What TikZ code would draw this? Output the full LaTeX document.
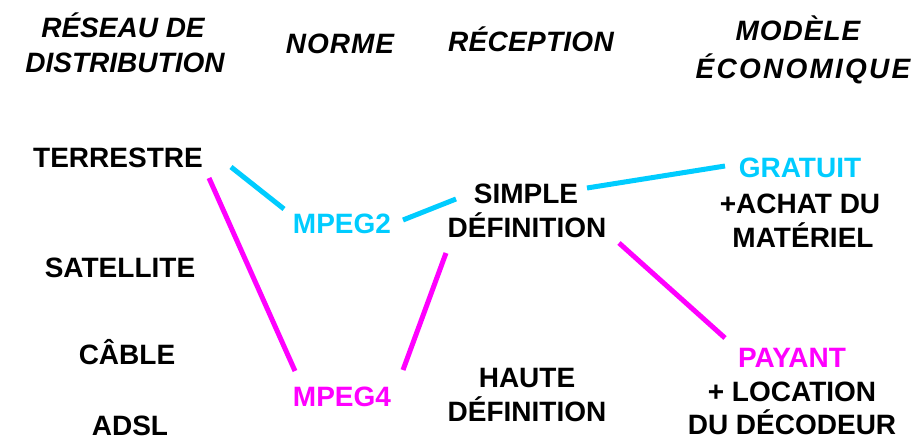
\documentclass[tikz,border=0pt]{standalone}
\usepackage{fontspec}
\setmainfont{Liberation Sans}
\definecolor{cyanc}{RGB}{0,204,255}
\definecolor{magc}{RGB}{255,0,255}
\tikzset{
  hdr/.style={anchor=base, inner sep=0pt, font=\fontsize{28}{30}\selectfont\bfseries\itshape},
  lbl/.style={anchor=base, inner sep=0pt, font=\fontsize{28}{34}\selectfont\bfseries},
  cyanline/.style={draw=cyanc, line width=5pt},
  magline/.style={draw=magc, line width=5pt}
}
\newcommand{\lsp}[2]{{\addfontfeature{LetterSpace=#1}#2}}
\begin{document}
\begin{tikzpicture}[x=1pt,y=-1pt]
\useasboundingbox (0,0) rectangle (917,439);
% headers
\node[hdr] (h1a) at (123,37) {\lsp{0}{RÉSEAU DE}};
\node[hdr] (h1b) at (125,72) {\lsp{0}{DISTRIBUTION}};
\node[hdr] (h2) at (340,53) {\lsp{3.5}{NORME}};
\node[hdr] (h3) at (531,51) {\lsp{1}{RÉCEPTION}};
\node[hdr] (h4a) at (798,40) {\lsp{3.5}{MODÈLE}};
\node[hdr] (h4b) at (803,78) {\lsp{8}{ÉCONOMIQUE}};
% left column
\node[lbl] (terre) at (118,167) {TERRESTRE};
\node[lbl] (sat) at (120,277) {SATELLITE};
\node[lbl] (cable) at (127,364) {CÂBLE};
\node[lbl] (adsl) at (130,435) {ADSL};
% norme
\node[lbl, text=cyanc] (mpeg2) at (342,233) {MPEG2};
\node[lbl, text=magc] (mpeg4) at (342,406) {MPEG4};
% reception
\node[lbl] (simple) at (526,203) {SIMPLE};
\node[lbl] (def1) at (527,237) {DÉFINITION};
\node[lbl] (haute) at (527,387) {HAUTE};
\node[lbl] (def2) at (527,421) {DÉFINITION};
% economic model
\node[lbl, text=cyanc] (gratuit) at (800,177) {GRATUIT};
\node[lbl] (achat) at (800,213) {+ACHAT DU};
\node[lbl] (mat) at (803,247) {MATÉRIEL};
\node[lbl, text=magc] (payant) at (792,367) {PAYANT};
\node[lbl] (loc) at (792,401) {+ LOCATION};
\node[lbl] (deco) at (792,434) {DU DÉCODEUR};
% connectors
\draw[cyanline] ([shift={(113,0)}]terre.base) -- ([shift={(-58,-24)}]mpeg2.base);
\draw[cyanline] ([shift={(61,-13)}]mpeg2.base) -- ([shift={(-70,-4)}]simple.base);
\draw[cyanline] ([shift={(61,-15)}]simple.base) -- ([shift={(-75,-11)}]gratuit.base);
\draw[magline] ([shift={(91,11)}]terre.base) -- ([shift={(-47,-35)}]mpeg4.base);
\draw[magline] ([shift={(61,-36)}]mpeg4.base) -- ([shift={(-81,16)}]def1.base);
\draw[magline] ([shift={(92,6)}]def1.base) -- ([shift={(-67,-29)}]payant.base);
\end{tikzpicture}
\end{document}
